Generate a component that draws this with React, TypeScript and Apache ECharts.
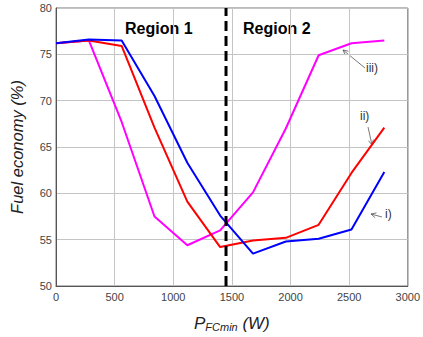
import React, { useEffect, useRef } from "react";
import * as echarts from "echarts";

const xValues = [0, 280, 560, 840, 1120, 1400, 1680, 1960, 2240, 2520, 2800];
const seriesI = [76.2, 76.6, 76.5, 70.5, 63.3, 57.6, 53.5, 54.8, 55.1, 56.1, 62.3];
const seriesII = [76.2, 76.5, 75.9, 67.1, 59.1, 54.2, 54.9, 55.2, 56.6, 62.2, 67.1];
const seriesIII = [76.2, 76.5, 67.7, 57.5, 54.4, 56.0, 60.1, 67.0, 74.9, 76.2, 76.5];
const boundaryX = 1450;
const xTicks = [0, 3000, 500];
const yTicks = [50, 80, 5];

const FONT = "'Liberation Sans', Arial, sans-serif";

function arrow(x1: number, y1: number, x2: number, y2: number) {
  const dx = x2 - x1;
  const dy = y2 - y1;
  const len = Math.sqrt(dx * dx + dy * dy);
  const ux = dx / len;
  const uy = dy / len;
  const h = 5;
  const w = 2.5;
  const bx = x2 - ux * h;
  const by = y2 - uy * h;
  const px = -uy;
  const py = ux;
  return [
    { type: "line", shape: { x1, y1, x2, y2 }, style: { stroke: "#555", lineWidth: 0.8 } },
    {
      type: "polyline",
      shape: { points: [[bx + px * w, by + py * w], [x2, y2], [bx - px * w, by - py * w]] },
      style: { stroke: "#555", lineWidth: 0.8, fill: null },
    },
  ];
}

export default function App() {
  const ref = useRef<HTMLDivElement>(null);
  useEffect(() => {
    const chart = echarts.init(ref.current!, null, { renderer: "svg" });
    const pairs = (ys: number[]) => xValues.map((x, i) => [x, ys[i]]);
    chart.setOption({
      animation: false,
      backgroundColor: "#fff",
      grid: { left: 50, top: 8, right: 12, bottom: 45, show: true, borderColor: "#777", borderWidth: 1 },
      xAxis: {
        type: "value",
        min: xTicks[0],
        max: xTicks[1],
        interval: xTicks[2],
        axisLine: { lineStyle: { color: "#555" } },
        axisTick: { show: false },
        splitLine: { lineStyle: { color: "#c4c4c4", width: 1 } },
        axisLabel: { color: "#444", fontSize: 11, fontFamily: FONT, margin: 5, formatter: (v: number) => String(v) },
        name: "{p|P}{s|FCmin}{p| (W)}",
        nameLocation: "middle",
        nameGap: 26,
        nameTextStyle: {
          rich: {
            p: { fontSize: 17, fontStyle: "italic", fontFamily: FONT, color: "#222", verticalAlign: "bottom", lineHeight: 20 },
            s: { fontSize: 11, fontStyle: "italic", fontFamily: FONT, color: "#222", verticalAlign: "bottom", lineHeight: 20, padding: [4, 0, 0, 0] },
          },
        },
      },
      yAxis: {
        type: "value",
        min: yTicks[0],
        max: yTicks[1],
        interval: yTicks[2],
        axisLine: { show: true, lineStyle: { color: "#555" } },
        axisTick: { show: false },
        splitLine: { lineStyle: { color: "#c4c4c4", width: 1 } },
        axisLabel: { color: "#444", fontSize: 11, fontFamily: FONT, margin: 4 },
        name: "Fuel economy (%)",
        nameLocation: "middle",
        nameGap: 31,
        nameTextStyle: { fontSize: 16.5, fontStyle: "italic", fontFamily: FONT, color: "#222" },
      },
      series: [
        {
          name: "iii)",
          type: "line",
          data: pairs(seriesIII),
          symbol: "none",
          lineStyle: { color: "#ff00ff", width: 2 },
        },
        {
          name: "ii)",
          type: "line",
          data: pairs(seriesII),
          symbol: "none",
          lineStyle: { color: "#ff0000", width: 2 },
        },
        {
          name: "i)",
          type: "line",
          data: pairs(seriesI),
          symbol: "none",
          lineStyle: { color: "#0000ff", width: 2 },
        },
        {
          name: "boundary",
          type: "line",
          data: [[boundaryX, yTicks[0]], [boundaryX, yTicks[1]]],
          symbol: "none",
          lineStyle: { color: "#000", width: 3, type: [10, 5] },
        },
      ],
      graphic: [
        { type: "text", left: 125, top: 20, style: { text: "Region 1", font: `bold 16px ${FONT}`, fill: "#000" } },
        { type: "text", left: 243, top: 20, style: { text: "Region 2", font: `bold 16px ${FONT}`, fill: "#000" } },
        { type: "text", left: 366, top: 62, style: { text: "iii)", font: `12px ${FONT}`, fill: "#333" } },
        { type: "text", left: 360, top: 110, style: { text: "ii)", font: `12px ${FONT}`, fill: "#333" } },
        { type: "text", left: 385, top: 208, style: { text: "i)", font: `12px ${FONT}`, fill: "#333" } },
        ...arrow(365, 68, 343, 50),
        ...arrow(368, 127, 372, 145),
        ...arrow(382, 217, 371, 214),
      ],
    });
    return () => chart.dispose();
  }, []);
  return <div ref={ref} style={{ position: "fixed", left: 0, top: 0, width: 423, height: 337 }} />;
}
